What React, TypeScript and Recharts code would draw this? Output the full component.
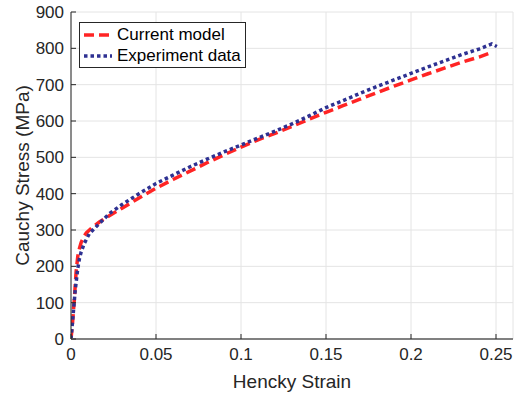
import React from "react";
import { LineChart, Line, XAxis, YAxis, CartesianGrid } from "recharts";

const modelStrain = [0, 0.001, 0.002, 0.003, 0.004, 0.005, 0.006, 0.0075, 0.009, 0.012, 0.0167, 0.02, 0.03, 0.04, 0.05, 0.06, 0.07, 0.08, 0.09, 0.1, 0.11, 0.12, 0.13, 0.14, 0.15, 0.16, 0.17, 0.18, 0.19, 0.2, 0.21, 0.22, 0.23, 0.24, 0.248];
const modelStress = [0, 50, 112, 185, 228, 250, 266, 281, 292, 305, 322, 332, 360, 388, 415, 439, 462, 485, 507, 528, 548, 566, 585, 605, 624, 642, 660, 678, 696, 713, 730, 746, 762, 776, 790];

const expStrain = [0, 0.0014, 0.0025, 0.0033, 0.004, 0.005, 0.006, 0.0078, 0.0108, 0.0167, 0.0225, 0.03, 0.04, 0.05, 0.06, 0.07, 0.08, 0.09, 0.1, 0.11, 0.12, 0.13, 0.14, 0.15, 0.16, 0.17, 0.18, 0.19, 0.2, 0.21, 0.22, 0.23, 0.24, 0.2475, 0.2505];
const expStress = [0, 75, 135, 167, 195, 222, 240, 263, 290, 318, 345, 370, 400, 428, 451, 474, 495, 515, 534, 553, 572, 592, 614, 637, 656, 676, 695, 713, 731, 749, 766, 783, 798, 812, 805];

const xTicks = [0, 0.05, 0.1, 0.15, 0.2, 0.25];
const yTicks = [0, 100, 200, 300, 400, 500, 600, 700, 800, 900];

const modelData = modelStrain.map((x, i) => ({ x, y: modelStress[i] }));
const expData = expStrain.map((x, i) => ({ x, y: expStress[i] }));

const RED = "#ff2424";
const BLUE = "#2e3192";
const TEXT = "#262626";
const FONT = "'Liberation Sans', Arial, sans-serif";

// legend drawn as an overlay so it takes no room from the plot
const LegendBox = () => (
  <div
    style={{
      position: "absolute",
      left: 79,
      top: 22,
      border: "1px solid #262626",
      background: "#fff",
      width: 167,
      height: 46,
      boxSizing: "border-box",
      fontFamily: FONT,
      fontSize: 17,
      color: "#000",
      padding: "1px 0 0 4px",
      lineHeight: "21px",
    }}
  >
    <div style={{ display: "flex", alignItems: "center" }}>
      <svg width={28} height={10} style={{ marginRight: 5 }}>
        <line x1={0} y1={5} x2={28} y2={5} stroke={RED} strokeWidth={3.5} strokeDasharray="10 5" />
      </svg>
      Current model
    </div>
    <div style={{ display: "flex", alignItems: "center" }}>
      <svg width={28} height={10} style={{ marginRight: 5 }}>
        <line x1={0} y1={5} x2={28} y2={5} stroke={BLUE} strokeWidth={3.5} strokeDasharray="3.5 3" />
      </svg>
      Experiment data
    </div>
  </div>
);

export default function App() {
  return (
    <div style={{ position: "absolute", left: 0, top: 0, width: 521, height: 396, background: "#fff" }}>
      <LineChart width={521} height={396} margin={{ top: 12, right: 8, bottom: 0, left: 0 }} style={{ overflow: "visible" }}>
        <CartesianGrid stroke="#e4e4e4" strokeWidth={1} />
        <XAxis
          type="number"
          dataKey="x"
          domain={[0, 0.26]}
          ticks={xTicks}
          allowDataOverflow
          height={57}
          tickSize={-5}
          tickMargin={14}
          axisLine={{ stroke: "#808080", strokeWidth: 2 }}
          tickLine={{ stroke: "#262626" }}
          tick={{ fill: TEXT, fontSize: 17, fontFamily: FONT }}
          tickFormatter={(v: number) => String(v)}
          label={{ value: "Hencky Strain", position: "insideBottom", offset: 8, fill: TEXT, fontSize: 19, fontFamily: FONT }}
        />
        <XAxis
          xAxisId="top"
          orientation="top"
          type="number"
          domain={[0, 0.26]}
          ticks={xTicks}
          height={0}
          tickSize={-5}
          tickFormatter={() => ""}
          axisLine={{ stroke: "#000" }}
          tickLine={{ stroke: "#262626" }}
        />
        <YAxis
          type="number"
          domain={[0, 900]}
          ticks={yTicks}
          width={71}
          tickSize={-5}
          tickMargin={12}
          axisLine={{ stroke: "#262626" }}
          tickLine={{ stroke: "#262626" }}
          tick={{ fill: TEXT, fontSize: 17, fontFamily: FONT }}
          label={{ value: "Cauchy Stress (MPa)", angle: -90, position: "insideLeft", offset: 22, style: { textAnchor: "middle" }, fill: TEXT, fontSize: 19, fontFamily: FONT }}
        />
        <YAxis
          yAxisId="right"
          orientation="right"
          type="number"
          domain={[0, 900]}
          ticks={yTicks}
          width={0}
          tickSize={-5}
          tickFormatter={() => ""}
          axisLine={{ stroke: "#000" }}
          tickLine={{ stroke: "#262626" }}
        />
        <Line
          data={modelData}
          dataKey="y"
          type="linear"
          stroke={RED}
          strokeWidth={3.5}
          strokeDasharray="10 5"
          dot={false}
          isAnimationActive={false}
        />
        <Line
          data={expData}
          dataKey="y"
          type="linear"
          stroke={BLUE}
          strokeWidth={3.5}
          strokeDasharray="3.5 3"
          dot={false}
          isAnimationActive={false}
        />
      </LineChart>
      <LegendBox />
    </div>
  );
}
